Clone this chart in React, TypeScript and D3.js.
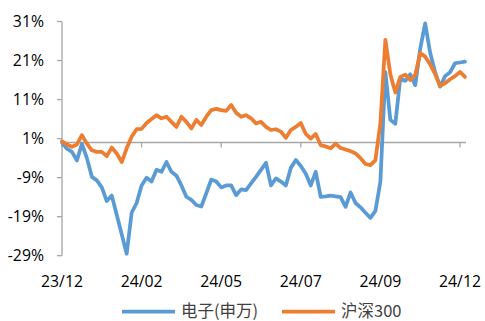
import React from "react";
import * as d3 from "d3";

const xLabels = ["23/12", "24/02", "24/05", "24/07", "24/09", "24/12"];
const xLabelDays = [0, 48, 96, 144, 192, 240];
const yTicks = [-29, -19, -9, 1, 11, 21, 31];
const sampleStep = 3; // trading days between samples

const electronics = [
  0, -1.6, -2.4, -4.6, -0.3, -4.0, -8.8, -9.7, -11.5, -15.0,
  -13.6, -18.5, -23.5, -28.5, -18.0, -15.5, -11.0, -9.0, -10.0, -7.0,
  -7.5, -5.0, -7.5, -8.5, -11.0, -13.9, -14.7, -16.0, -16.4, -13.0,
  -9.5, -10.0, -11.5, -11.0, -11.0, -13.5, -12.0, -12.2, -10.5, -8.8,
  -7.0, -5.2, -11.0, -9.2, -10.0, -11.0, -6.5, -4.5, -6.0, -8.0,
  -11.0, -7.5, -13.9, -13.8, -13.6, -13.8, -14.0, -16.5, -12.8, -15.5,
  -16.6, -18.0, -19.3, -17.5, -10.0, 18.0, 5.8, 4.8, 16.5, 15.8,
  17.5, 14.7, 24.0, 30.5, 23.0, 18.0, 14.3, 17.0, 18.0, 20.3,
  20.5, 20.7,
];

const hs300 = [
  0.3, -0.5, -1.1, -0.5, 1.9, -0.3, -2.0, -2.4, -2.4, -3.5,
  -1.3, -2.8, -5.0, -1.5, 1.5, 3.4, 3.5, 5.0, 6.0, 7.0,
  6.2, 6.6, 5.3, 4.0, 6.6, 5.3, 3.6, 5.8, 4.5, 6.6,
  8.3, 8.6, 8.3, 8.1, 9.6, 7.6, 6.6, 7.0, 6.2, 4.9,
  5.3, 4.0, 3.2, 3.4, 2.8, 1.2, 3.2, 4.0, 5.0, 2.2,
  1.0, 2.2, -0.7, -1.0, -1.5, -0.3, -1.4, -1.8, -2.2, -2.8,
  -4.0, -5.5, -5.8, -4.5, 5.0, 26.3, 17.5, 12.8, 16.8, 17.4,
  16.0, 17.3, 22.9, 22.0, 20.0, 17.5, 14.5, 15.2, 16.2, 17.0,
  18.1, 16.8,
];

const seriesNames = ["电子(申万)", "沪深300"];
const seriesColors = ["#5B9BD5", "#ED7D31"];

export default function App() {
  const W = 485;
  const H = 321;
  const x = d3.scaleLinear().domain([0, 240]).range([62, 460]);
  const y = d3.scaleLinear().domain([-29, 31]).range([255.7, 21.5]);
  const lastDay = (electronics.length - 1) * sampleStep;

  const line = d3
    .line<number>()
    .x((_, i) => x(i * sampleStep))
    .y((d) => y(d))
    .curve(d3.curveLinear);

  const axisColor = "#a6a6a6";
  const font = "'Open Sans', 'Noto Sans', sans-serif";
  const cjk = "'Noto Sans CJK SC', sans-serif";
  const y0 = y(0);

  const legendY = 311.5;
  const legend = [
    { x1: 122, x2: 175, tx: 181 },
    { x1: 282, x2: 335, tx: 341 },
  ];

  return (
    <svg
      width={W}
      height={H}
      style={{ position: "absolute", left: 0, top: 0, background: "#fff" }}
    >
      {/* Y axis */}
      <line x1={62} x2={62} y1={y(31)} y2={y(-29)} stroke={axisColor} strokeWidth={1.3} />
      {yTicks.map((t) => (
        <g key={t}>
          <line x1={57} x2={62} y1={y(t)} y2={y(t)} stroke={axisColor} strokeWidth={1.3} />
          <text
            x={44}
            y={y(t) + 5.6}
            textAnchor="end"
            fontFamily={font}
            fontSize={15.8}
            fill="#000"
          >
            {t}%
          </text>
        </g>
      ))}
      {/* X axis at zero */}
      <line x1={62} x2={x(lastDay) + 1} y1={y0} y2={y0} stroke={axisColor} strokeWidth={1.3} />
      {xLabelDays.map((d, i) => (
        <g key={d}>
          <line x1={x(d)} x2={x(d)} y1={y0} y2={y0 + 5} stroke={axisColor} strokeWidth={1.3} />
          <text
            x={x(d)}
            y={286.7}
            textAnchor="middle"
            fontFamily={font}
            fontSize={15.8}
            fill="#000"
          >
            {xLabels[i]}
          </text>
        </g>
      ))}
      {/* Series */}
      <path
        d={line(electronics) || ""}
        fill="none"
        stroke={seriesColors[0]}
        strokeWidth={3.75}
        strokeLinejoin="round"
        strokeLinecap="round"
      />
      <path
        d={line(hs300) || ""}
        fill="none"
        stroke={seriesColors[1]}
        strokeWidth={3.75}
        strokeLinejoin="round"
        strokeLinecap="round"
      />
      {/* Legend */}
      {legend.map((l, i) => (
        <g key={i}>
          <line
            x1={l.x1}
            x2={l.x2}
            y1={legendY}
            y2={legendY}
            stroke={seriesColors[i]}
            strokeWidth={3.75}
          />
          <text
            x={l.tx}
            y={legendY + 5}
            fontFamily={cjk}
            fontSize={16.5}
            fill="#404040"
          >
            {seriesNames[i]}
          </text>
        </g>
      ))}
    </svg>
  );
}
